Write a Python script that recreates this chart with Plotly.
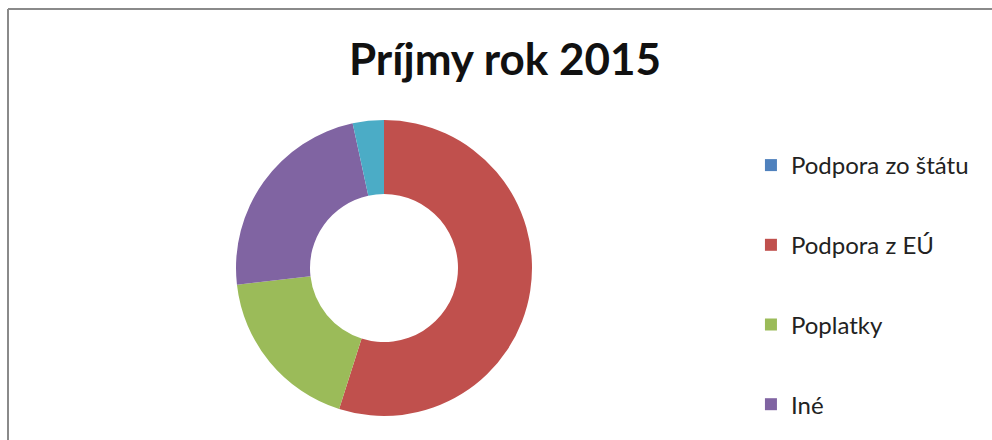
import plotly.graph_objects as go

categories = ["Podpora zo štátu", "Podpora z EÚ", "Poplatky", "Iné", "Ostatné"]
values = [0, 54.9, 18.3, 23.4, 3.4]
colors = ["#4F81BD", "#C0504D", "#9BBB59", "#8064A2", "#4BACC6"]
legend_items = categories[:4]

W, H = 992, 440
cx, cy, r = 384, 268, 148

fig = go.Figure()
fig.add_trace(go.Pie(
    labels=categories, values=values, hole=0.5, sort=False,
    direction="clockwise", rotation=0,
    marker=dict(colors=colors, line=dict(color="white", width=0)),
    textinfo="none", showlegend=False,
    domain=dict(x=[(cx - r) / W, (cx + r) / W], y=[(H - cy - r) / H, (H - cy + r) / H]),
))
for name, col in zip(legend_items, colors):
    fig.add_trace(go.Scatter(
        x=[None], y=[None], mode="markers", name=name, legendgroup=name,
        marker=dict(symbol="square", size=10, color=col),
    ))

border = dict(color="#8a8a8a", width=2)
fig.update_layout(
    width=W, height=H, margin=dict(l=0, r=0, t=0, b=0),
    paper_bgcolor="white", plot_bgcolor="white",
    xaxis=dict(visible=False), yaxis=dict(visible=False),
    title=dict(text="<b>Príjmy rok 2015</b>", x=505 / W, xanchor="center",
               y=1 - 60 / H, yanchor="middle",
               font=dict(family="Lato", size=44, color="#111111")),
    legend=dict(x=0.757, xanchor="left", y=1 - 143 / H, yanchor="top",
                font=dict(family="Lato", size=24, color="#222222"),
                tracegroupgap=45.5, itemsizing="constant", bgcolor="rgba(0,0,0,0)"),
    shapes=[
        dict(type="line", xref="paper", yref="paper",
             x0=8 / W, x1=1, y0=1 - 9 / H, y1=1 - 9 / H, line=border),
        dict(type="line", xref="paper", yref="paper",
             x0=8 / W, x1=8 / W, y0=0, y1=1 - 9 / H, line=border),
    ],
)
fig.write_html("out.html", config={"displayModeBar": False},
               post_script="document.body.style.margin='0';document.body.style.overflow='hidden';")
